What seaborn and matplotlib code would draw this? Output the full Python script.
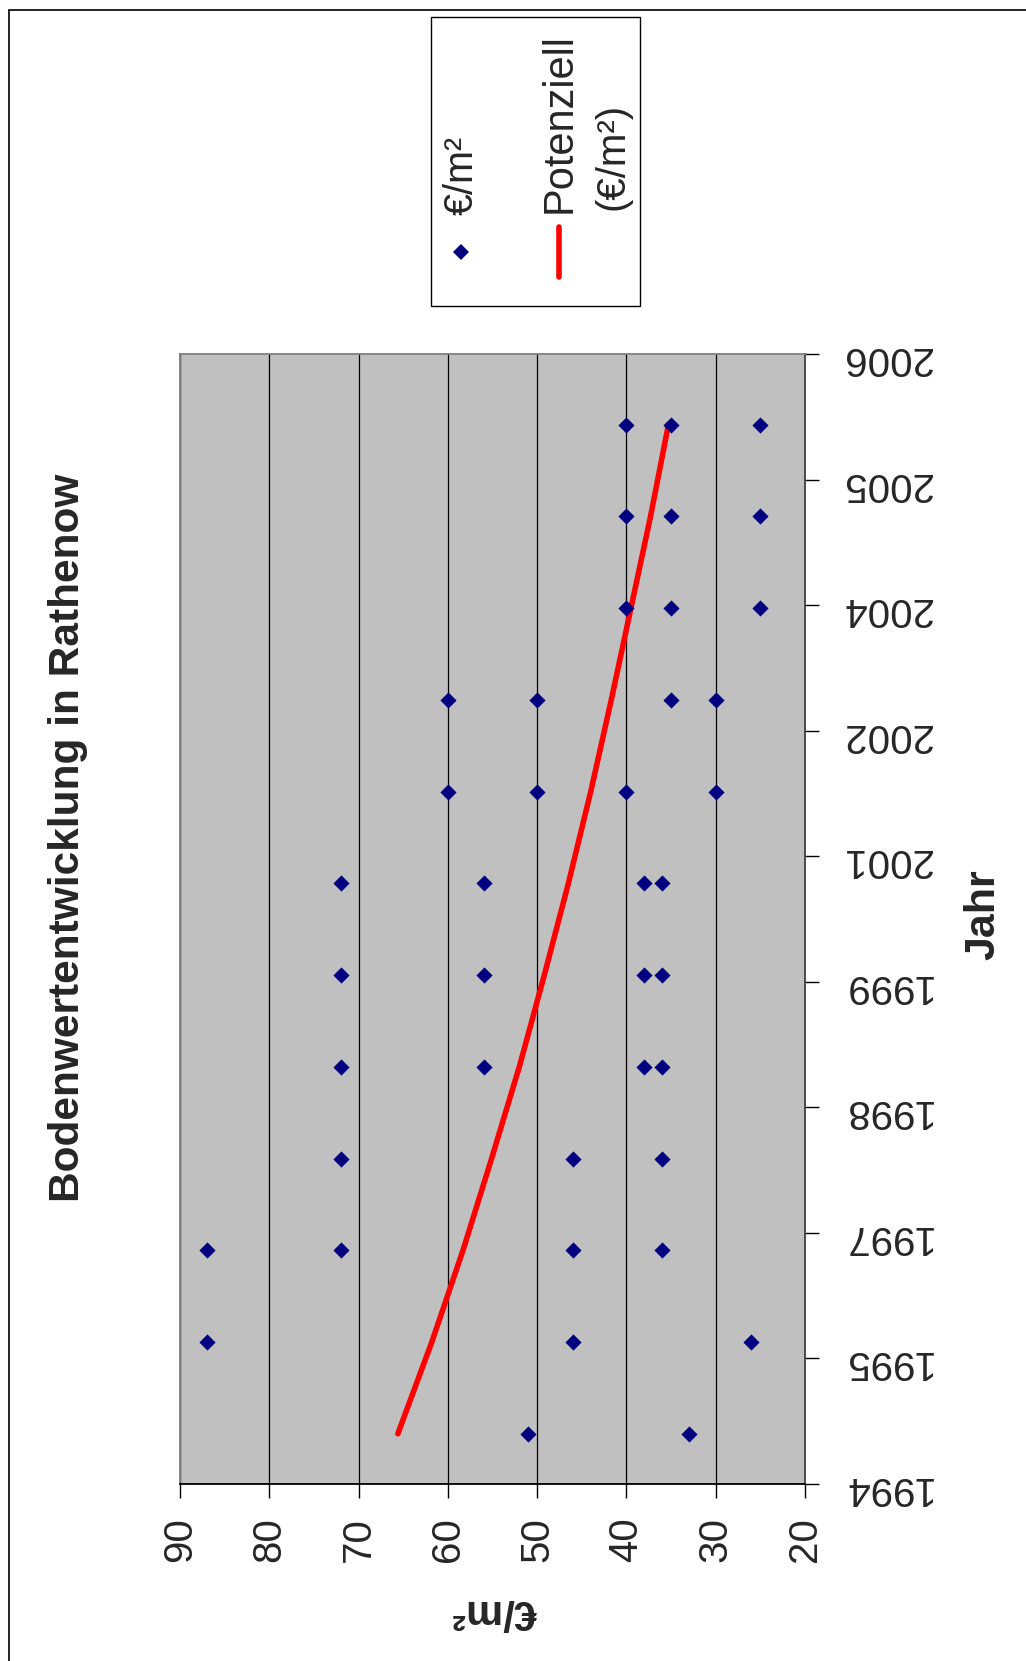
import pandas as pd
import matplotlib
matplotlib.use("Agg")
import matplotlib.pyplot as plt
import matplotlib.dates as mdates
from matplotlib.lines import Line2D
from matplotlib.patches import Rectangle
import seaborn as sns

# Land values (EUR/m²) recorded per year
years = [1995, 1996, 1997, 1998, 1999, 2000, 2001, 2002, 2003, 2004, 2005, 2006]
prices = [
    [51, 33],
    [87, 46, 26],
    [87, 72, 46, 36],
    [72, 46, 36],
    [72, 56, 38, 36],
    [72, 56, 38, 36],
    [72, 56, 38, 36],
    [60, 50, 40, 30],
    [60, 50, 35, 30],
    [40, 35, 25],
    [40, 35, 25],
    [40, 35, 25],
]
# power trend line ("Potenziell") value at each year
trend = [65.6, 61.8, 58.3, 55.1, 52.0, 49.2, 46.5, 44.0, 41.7, 39.5, 37.3, 35.3]

value_ticks = [90, 80, 70, 60, 50, 40, 30, 20]
date_axis_start = "1994-06-15"
date_axis_end = "2006-10-10"
date_tick_step = "500D"

title = "Bodenwertentwicklung in Rathenow"
x_label = "€/m²"
y_label = "Jahr"
legend_points = "€/m²"
legend_trend = ["Potenziell", "(€/m²)"]

# ---------------------------------------------------------------------------
rows = []
for yr, vals in zip(years, prices):
    for v in vals:
        rows.append({"Datum": pd.Timestamp(year=yr, month=1, day=1), "Preis": v})
df = pd.DataFrame(rows)
trend_df = pd.DataFrame({"Datum": [pd.Timestamp(year=y, month=1, day=1) for y in years],
                         "Preis": trend})

sns.set_theme(style="white")
plt.rcParams["font.family"] = ["Liberation Sans", "DejaVu Sans"]
narrow = ["Liberation Sans Narrow", "Liberation Sans", "DejaVu Sans"]

W, H = 1026, 1661
fig = plt.figure(figsize=(W / 100, H / 100), dpi=100)
fig.patch.set_facecolor("white")

ax = fig.add_axes([180 / W, 177 / H, 625 / W, 1130 / H])
ax.set_facecolor("#C0C0C0")

sns.scatterplot(data=df, x="Preis", y="Datum", marker="D", s=68,
                color="#000080", linewidth=0, ax=ax, legend=False, zorder=3)
ax.plot(trend_df["Preis"], trend_df["Datum"], color="#FF0000", lw=4.0,
        solid_capstyle="round", solid_joinstyle="round", zorder=2)

# value axis (horizontal, reversed)
ax.set_xlim(90, 20)
ax.set_xticks(value_ticks)
ax.set_xticklabels([str(v) for v in value_ticks])
ax.grid(axis="x", color="black", lw=0.9)
ax.grid(axis="y", visible=False)
ax.set_axisbelow(True)

# time axis (vertical, on the right)
t0, t1 = pd.Timestamp(date_axis_start), pd.Timestamp(date_axis_end)
ax.set_ylim(t0, t1)
ax.set_yticks(pd.date_range(t0, t1, freq=date_tick_step))
ax.yaxis.set_major_formatter(mdates.DateFormatter("%Y"))
ax.yaxis.tick_right()
ax.yaxis.set_label_position("right")

ax.tick_params(axis="x", which="major", direction="out", length=10, width=1,
               color="black", labelsize=29, labelrotation=90, pad=14,
               bottom=True, top=False)
ax.tick_params(axis="y", which="major", direction="out", length=10, width=1,
               color="black", labelsize=29, labelrotation=180, pad=16,
               right=True, left=False)

for side, col in [("left", "#808080"), ("top", "#808080"),
                  ("right", "#404040"), ("bottom", "black")]:
    ax.spines[side].set_visible(True)
    ax.spines[side].set_color(col)
    ax.spines[side].set_linewidth(1.3)

ax.set_xlabel(x_label, family=narrow, fontweight="bold", fontsize=30, rotation=180)
ax.xaxis.set_label_coords((494 - 180) / 625, (50 - 177) / 1130)
ax.xaxis.label.set_va("center")
ax.set_ylabel(y_label, family=narrow, fontweight="bold", fontsize=31, rotation=90)
ax.yaxis.set_label_coords((983 - 180) / 625, (1661 - 915 - 177) / 1130)
ax.yaxis.label.set_va("center")

ax.text((68 - 180) / 625, (1661 - 837.5 - 177) / 1130, title, transform=ax.transAxes,
        rotation=90, ha="center", va="center", family=narrow, fontweight="bold",
        fontsize=30.5)

# legend box
fx = lambda px: px / W
fy = lambda py: (H - py) / H
fig.add_artist(Rectangle((fx(431), fy(306)), fx(640) - fx(431), fy(17) - fy(306),
                         transform=fig.transFigure, facecolor="white",
                         edgecolor="black", lw=1.0))
fig.add_artist(Line2D([fx(461)], [fy(252)], transform=fig.transFigure, marker="D",
                      markersize=8.2, color="#000080", markeredgewidth=0, linestyle="none"))
fig.text(fx(462), fy(215), legend_points, rotation=90, ha="center", va="bottom",
         fontsize=28.5)
fig.add_artist(Line2D([fx(559), fx(559)], [fy(277), fy(227)], transform=fig.transFigure,
                      color="#FF0000", lw=4.0, solid_capstyle="round"))
fig.text(fx(560), fy(213), legend_trend[0], rotation=90, ha="center", va="bottom",
         fontsize=30)
fig.text(fx(613), fy(210), legend_trend[1], rotation=90, ha="center", va="bottom",
         fontsize=29)

# outer chart frame
fig.add_artist(Line2D([fx(8.5), 1], [fy(9.5), fy(9.5)], transform=fig.transFigure,
                      color="black", lw=1.2))
fig.add_artist(Line2D([fx(8.5), fx(8.5)], [fy(9.5), 0], transform=fig.transFigure,
                      color="black", lw=1.2))

fig.savefig("out.png", dpi=100, facecolor="white")
